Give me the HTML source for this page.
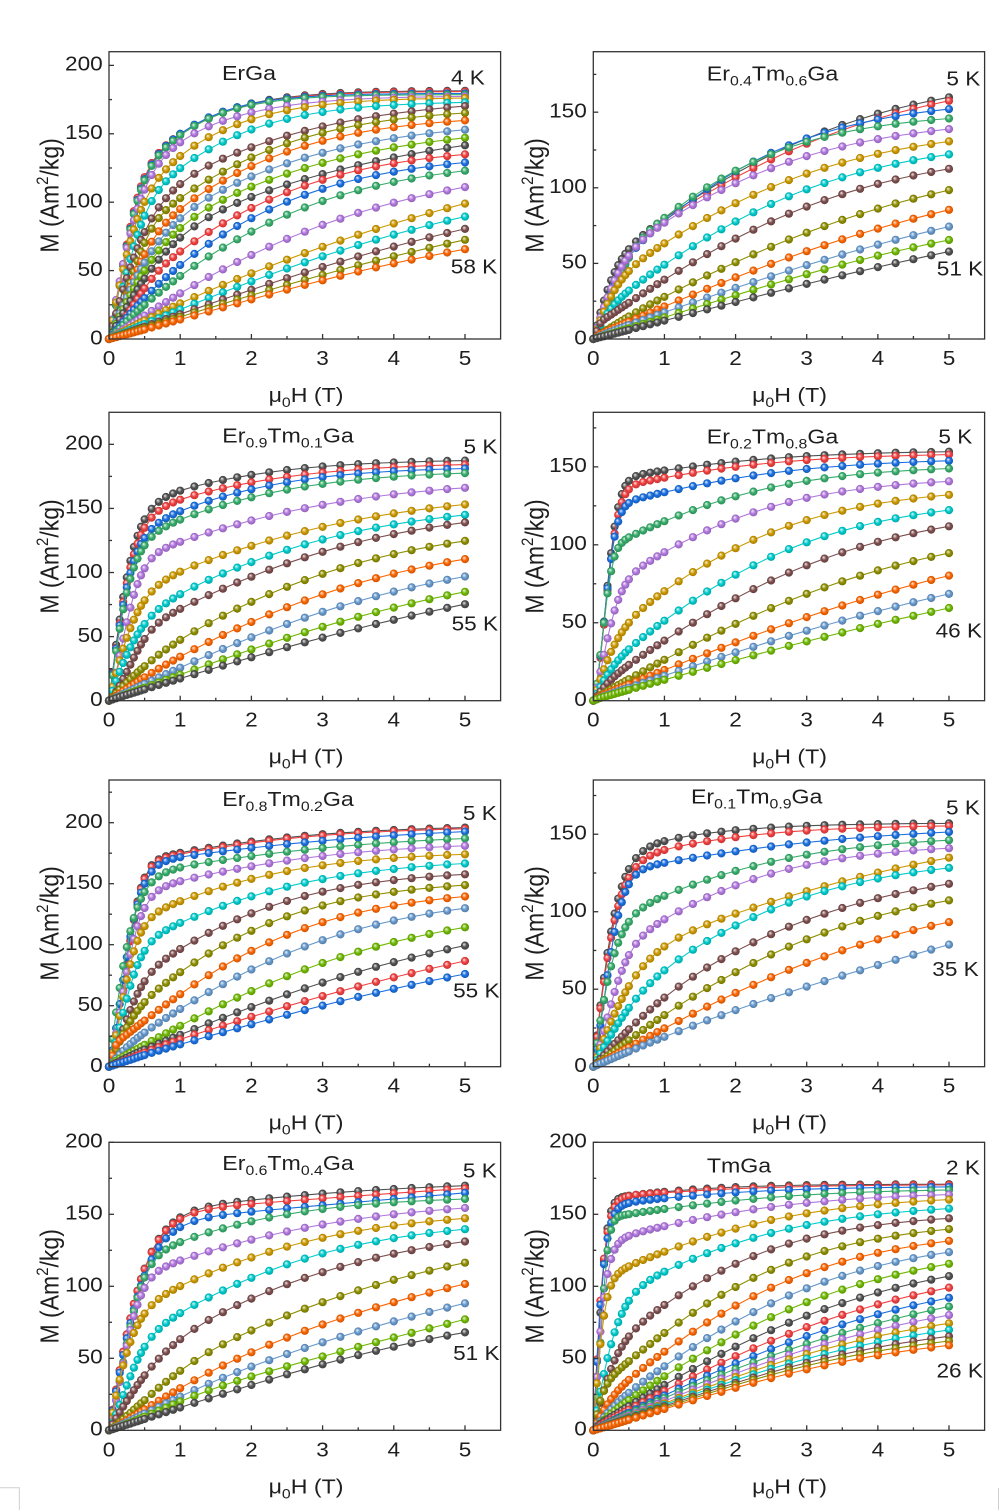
<!DOCTYPE html>
<html><head><meta charset="utf-8">
<style>
html,body{margin:0;padding:0;background:#fff;overflow:hidden;width:1000px;height:1510px;}
svg{display:block;}
text{font-family:"Liberation Sans",Arial,sans-serif;fill:#1e1e1e;}
.tk{font-size:20px;}
.ti{font-size:20.5px;}
.tl{font-size:20px;}
.ax{font-size:20.5px;}
.ay{font-size:23px;}
</style></head><body>
<svg id="s" width="1000" height="1510" viewBox="0 0 1000 1510" xmlns="http://www.w3.org/2000/svg">
<rect x="0" y="0" width="1000" height="1510" fill="#fff"/>
<defs id="defs"></defs>
<g id="data"></g>
<g id="frames" fill="none" stroke="#333" stroke-width="1.3"></g>

<!-- light corner marks -->
<path d="M0 1487.7 H19.3 V1510" fill="none" stroke="#cfcfcf" stroke-width="1"/>
<path d="M998.5 1488 V1510" fill="none" stroke="#cfcfcf" stroke-width="1"/>

<!-- ===== Panel 1 ===== -->
<g class="tk" text-anchor="end">
<text transform="translate(102.7 344.3) scale(1.13 1)">0</text>
<text transform="translate(102.7 275.9) scale(1.13 1)">50</text>
<text transform="translate(102.7 207.5) scale(1.13 1)">100</text>
<text transform="translate(102.7 139.1) scale(1.13 1)">150</text>
<text transform="translate(102.7 70.7) scale(1.13 1)">200</text>
</g>
<g class="tk" text-anchor="middle">
<text transform="translate(109 365) scale(1.13 1)">0</text>
<text transform="translate(180.2 365) scale(1.13 1)">1</text>
<text transform="translate(251.4 365) scale(1.13 1)">2</text>
<text transform="translate(322.6 365) scale(1.13 1)">3</text>
<text transform="translate(393.8 365) scale(1.13 1)">4</text>
<text transform="translate(465 365) scale(1.13 1)">5</text>
</g>
<text class="ti" text-anchor="middle" transform="translate(249 80) scale(1.13 1)">ErGa</text>
<text class="tl" text-anchor="middle" transform="translate(467.9 84.5) scale(1.13 1)">4 K</text>
<text class="tl" text-anchor="middle" transform="translate(474 273.3) scale(1.13 1)">58 K</text>
<text class="ay" text-anchor="middle" transform="translate(49 195.4) scale(1.13 1) rotate(-90)" y="8.3">M (Am<tspan font-size="15" dy="-9">2</tspan><tspan dy="9">/kg)</tspan></text>
<text class="ax" text-anchor="middle" transform="translate(306 402) scale(1.13 1)">μ<tspan font-size="14" dy="5">0</tspan><tspan dy="-5">H (T)</tspan></text>

<!-- ===== Panel 2 ===== -->
<g class="tk" text-anchor="end">
<text transform="translate(586.8 344.3) scale(1.13 1)">0</text>
<text transform="translate(586.8 268.7) scale(1.13 1)">50</text>
<text transform="translate(586.8 193.1) scale(1.13 1)">100</text>
<text transform="translate(586.8 117.5) scale(1.13 1)">150</text>
</g>
<g class="tk" text-anchor="middle">
<text transform="translate(593.3 365) scale(1.13 1)">0</text>
<text transform="translate(664.4 365) scale(1.13 1)">1</text>
<text transform="translate(735.6 365) scale(1.13 1)">2</text>
<text transform="translate(806.7 365) scale(1.13 1)">3</text>
<text transform="translate(877.9 365) scale(1.13 1)">4</text>
<text transform="translate(949 365) scale(1.13 1)">5</text>
</g>
<text class="ti" text-anchor="middle" transform="translate(772.5 80.7) scale(1.13 1)">Er<tspan font-size="14" dy="5">0.4</tspan><tspan dy="-5">Tm</tspan><tspan font-size="14" dy="5">0.6</tspan><tspan dy="-5">Ga</tspan></text>
<text class="tl" text-anchor="middle" transform="translate(963.3 85.7) scale(1.13 1)">5 K</text>
<text class="tl" text-anchor="middle" transform="translate(960 275.7) scale(1.13 1)">51 K</text>
<text class="ay" text-anchor="middle" transform="translate(534 195.4) scale(1.13 1) rotate(-90)" y="8.3">M (Am<tspan font-size="15" dy="-9">2</tspan><tspan dy="9">/kg)</tspan></text>
<text class="ax" text-anchor="middle" transform="translate(789.5 402) scale(1.13 1)">μ<tspan font-size="14" dy="5">0</tspan><tspan dy="-5">H (T)</tspan></text>

<!-- ===== Panel 3 ===== -->
<g class="tk" text-anchor="end">
<text transform="translate(102.7 706) scale(1.13 1)">0</text>
<text transform="translate(102.7 641.9) scale(1.13 1)">50</text>
<text transform="translate(102.7 577.8) scale(1.13 1)">100</text>
<text transform="translate(102.7 513.7) scale(1.13 1)">150</text>
<text transform="translate(102.7 449.6) scale(1.13 1)">200</text>
</g>
<g class="tk" text-anchor="middle">
<text transform="translate(109 726.7) scale(1.13 1)">0</text>
<text transform="translate(180.2 726.7) scale(1.13 1)">1</text>
<text transform="translate(251.4 726.7) scale(1.13 1)">2</text>
<text transform="translate(322.6 726.7) scale(1.13 1)">3</text>
<text transform="translate(393.8 726.7) scale(1.13 1)">4</text>
<text transform="translate(465 726.7) scale(1.13 1)">5</text>
</g>
<text class="ti" text-anchor="middle" transform="translate(288 442.3) scale(1.13 1)">Er<tspan font-size="14" dy="5">0.9</tspan><tspan dy="-5">Tm</tspan><tspan font-size="14" dy="5">0.1</tspan><tspan dy="-5">Ga</tspan></text>
<text class="tl" text-anchor="middle" transform="translate(480.5 453.3) scale(1.13 1)">5 K</text>
<text class="tl" text-anchor="middle" transform="translate(474.8 630.7) scale(1.13 1)">55 K</text>
<text class="ay" text-anchor="middle" transform="translate(49 556.5) scale(1.13 1) rotate(-90)" y="8.3">M (Am<tspan font-size="15" dy="-9">2</tspan><tspan dy="9">/kg)</tspan></text>
<text class="ax" text-anchor="middle" transform="translate(306 763.7) scale(1.13 1)">μ<tspan font-size="14" dy="5">0</tspan><tspan dy="-5">H (T)</tspan></text>

<!-- ===== Panel 4 ===== -->
<g class="tk" text-anchor="end">
<text transform="translate(586.8 706) scale(1.13 1)">0</text>
<text transform="translate(586.8 628.1) scale(1.13 1)">50</text>
<text transform="translate(586.8 550.1) scale(1.13 1)">100</text>
<text transform="translate(586.8 472.2) scale(1.13 1)">150</text>
</g>
<g class="tk" text-anchor="middle">
<text transform="translate(593.3 726.7) scale(1.13 1)">0</text>
<text transform="translate(664.4 726.7) scale(1.13 1)">1</text>
<text transform="translate(735.6 726.7) scale(1.13 1)">2</text>
<text transform="translate(806.7 726.7) scale(1.13 1)">3</text>
<text transform="translate(877.9 726.7) scale(1.13 1)">4</text>
<text transform="translate(949 726.7) scale(1.13 1)">5</text>
</g>
<text class="ti" text-anchor="middle" transform="translate(772.5 443.3) scale(1.13 1)">Er<tspan font-size="14" dy="5">0.2</tspan><tspan dy="-5">Tm</tspan><tspan font-size="14" dy="5">0.8</tspan><tspan dy="-5">Ga</tspan></text>
<text class="tl" text-anchor="middle" transform="translate(955.3 443.3) scale(1.13 1)">5 K</text>
<text class="tl" text-anchor="middle" transform="translate(958.8 637.7) scale(1.13 1)">46 K</text>
<text class="ay" text-anchor="middle" transform="translate(534 556.5) scale(1.13 1) rotate(-90)" y="8.3">M (Am<tspan font-size="15" dy="-9">2</tspan><tspan dy="9">/kg)</tspan></text>
<text class="ax" text-anchor="middle" transform="translate(789.5 763.7) scale(1.13 1)">μ<tspan font-size="14" dy="5">0</tspan><tspan dy="-5">H (T)</tspan></text>

<!-- ===== Panel 5 ===== -->
<g class="tk" text-anchor="end">
<text transform="translate(102.7 1072) scale(1.13 1)">0</text>
<text transform="translate(102.7 1011) scale(1.13 1)">50</text>
<text transform="translate(102.7 950) scale(1.13 1)">100</text>
<text transform="translate(102.7 889) scale(1.13 1)">150</text>
<text transform="translate(102.7 828) scale(1.13 1)">200</text>
</g>
<g class="tk" text-anchor="middle">
<text transform="translate(109 1092.7) scale(1.13 1)">0</text>
<text transform="translate(180.2 1092.7) scale(1.13 1)">1</text>
<text transform="translate(251.4 1092.7) scale(1.13 1)">2</text>
<text transform="translate(322.6 1092.7) scale(1.13 1)">3</text>
<text transform="translate(393.8 1092.7) scale(1.13 1)">4</text>
<text transform="translate(465 1092.7) scale(1.13 1)">5</text>
</g>
<text class="ti" text-anchor="middle" transform="translate(288 806) scale(1.13 1)">Er<tspan font-size="14" dy="5">0.8</tspan><tspan dy="-5">Tm</tspan><tspan font-size="14" dy="5">0.2</tspan><tspan dy="-5">Ga</tspan></text>
<text class="tl" text-anchor="middle" transform="translate(479.8 820) scale(1.13 1)">5 K</text>
<text class="tl" text-anchor="middle" transform="translate(476.3 997.7) scale(1.13 1)">55 K</text>
<text class="ay" text-anchor="middle" transform="translate(49 923.4) scale(1.13 1) rotate(-90)" y="8.3">M (Am<tspan font-size="15" dy="-9">2</tspan><tspan dy="9">/kg)</tspan></text>
<text class="ax" text-anchor="middle" transform="translate(306 1129.7) scale(1.13 1)">μ<tspan font-size="14" dy="5">0</tspan><tspan dy="-5">H (T)</tspan></text>

<!-- ===== Panel 6 ===== -->
<g class="tk" text-anchor="end">
<text transform="translate(586.8 1072) scale(1.13 1)">0</text>
<text transform="translate(586.8 994.5) scale(1.13 1)">50</text>
<text transform="translate(586.8 917) scale(1.13 1)">100</text>
<text transform="translate(586.8 839.5) scale(1.13 1)">150</text>
</g>
<g class="tk" text-anchor="middle">
<text transform="translate(593.3 1092.7) scale(1.13 1)">0</text>
<text transform="translate(664.4 1092.7) scale(1.13 1)">1</text>
<text transform="translate(735.6 1092.7) scale(1.13 1)">2</text>
<text transform="translate(806.7 1092.7) scale(1.13 1)">3</text>
<text transform="translate(877.9 1092.7) scale(1.13 1)">4</text>
<text transform="translate(949 1092.7) scale(1.13 1)">5</text>
</g>
<text class="ti" text-anchor="middle" transform="translate(756.7 803.3) scale(1.13 1)">Er<tspan font-size="14" dy="5">0.1</tspan><tspan dy="-5">Tm</tspan><tspan font-size="14" dy="5">0.9</tspan><tspan dy="-5">Ga</tspan></text>
<text class="tl" text-anchor="middle" transform="translate(963 814.3) scale(1.13 1)">5 K</text>
<text class="tl" text-anchor="middle" transform="translate(955.5 976) scale(1.13 1)">35 K</text>
<text class="ay" text-anchor="middle" transform="translate(534 923.4) scale(1.13 1) rotate(-90)" y="8.3">M (Am<tspan font-size="15" dy="-9">2</tspan><tspan dy="9">/kg)</tspan></text>
<text class="ax" text-anchor="middle" transform="translate(789.5 1129.7) scale(1.13 1)">μ<tspan font-size="14" dy="5">0</tspan><tspan dy="-5">H (T)</tspan></text>

<!-- ===== Panel 7 ===== -->
<g class="tk" text-anchor="end">
<text transform="translate(102.7 1435.6) scale(1.13 1)">0</text>
<text transform="translate(102.7 1363.6) scale(1.13 1)">50</text>
<text transform="translate(102.7 1291.6) scale(1.13 1)">100</text>
<text transform="translate(102.7 1219.6) scale(1.13 1)">150</text>
<text transform="translate(102.7 1147.6) scale(1.13 1)">200</text>
</g>
<g class="tk" text-anchor="middle">
<text transform="translate(109 1456.3) scale(1.13 1)">0</text>
<text transform="translate(180.2 1456.3) scale(1.13 1)">1</text>
<text transform="translate(251.4 1456.3) scale(1.13 1)">2</text>
<text transform="translate(322.6 1456.3) scale(1.13 1)">3</text>
<text transform="translate(393.8 1456.3) scale(1.13 1)">4</text>
<text transform="translate(465 1456.3) scale(1.13 1)">5</text>
</g>
<text class="ti" text-anchor="middle" transform="translate(288 1170) scale(1.13 1)">Er<tspan font-size="14" dy="5">0.6</tspan><tspan dy="-5">Tm</tspan><tspan font-size="14" dy="5">0.4</tspan><tspan dy="-5">Ga</tspan></text>
<text class="tl" text-anchor="middle" transform="translate(479.8 1177.7) scale(1.13 1)">5 K</text>
<text class="tl" text-anchor="middle" transform="translate(476.3 1360) scale(1.13 1)">51 K</text>
<text class="ay" text-anchor="middle" transform="translate(49 1286.3) scale(1.13 1) rotate(-90)" y="8.3">M (Am<tspan font-size="15" dy="-9">2</tspan><tspan dy="9">/kg)</tspan></text>
<text class="ax" text-anchor="middle" transform="translate(306 1493.3) scale(1.13 1)">μ<tspan font-size="14" dy="5">0</tspan><tspan dy="-5">H (T)</tspan></text>

<!-- ===== Panel 8 ===== -->
<g class="tk" text-anchor="end">
<text transform="translate(586.8 1435.6) scale(1.13 1)">0</text>
<text transform="translate(586.8 1363.6) scale(1.13 1)">50</text>
<text transform="translate(586.8 1291.6) scale(1.13 1)">100</text>
<text transform="translate(586.8 1219.6) scale(1.13 1)">150</text>
<text transform="translate(586.8 1147.6) scale(1.13 1)">200</text>
</g>
<g class="tk" text-anchor="middle">
<text transform="translate(593.3 1456.3) scale(1.13 1)">0</text>
<text transform="translate(664.4 1456.3) scale(1.13 1)">1</text>
<text transform="translate(735.6 1456.3) scale(1.13 1)">2</text>
<text transform="translate(806.7 1456.3) scale(1.13 1)">3</text>
<text transform="translate(877.9 1456.3) scale(1.13 1)">4</text>
<text transform="translate(949 1456.3) scale(1.13 1)">5</text>
</g>
<text class="ti" text-anchor="middle" transform="translate(739 1172.3) scale(1.13 1)">TmGa</text>
<text class="tl" text-anchor="middle" transform="translate(963 1174.3) scale(1.13 1)">2 K</text>
<text class="tl" text-anchor="middle" transform="translate(959.7 1377.7) scale(1.13 1)">26 K</text>
<text class="ay" text-anchor="middle" transform="translate(534 1286.3) scale(1.13 1) rotate(-90)" y="8.3">M (Am<tspan font-size="15" dy="-9">2</tspan><tspan dy="9">/kg)</tspan></text>
<text class="ax" text-anchor="middle" transform="translate(789.5 1493.3) scale(1.13 1)">μ<tspan font-size="14" dy="5">0</tspan><tspan dy="-5">H (T)</tspan></text>
</svg>

<script>
(function(){
const COLS=["#515151","#F14040","#1A6FDF","#37AD6B","#B177DE","#CC9900","#00CBCC","#7D4E4E","#8E8E00","#FB6501","#6699CC","#6FB802"];
function mix(hex,t,tg){const n=parseInt(hex.slice(1),16);const c=[n>>16,(n>>8)&255,n&255].map(v=>Math.round(v+(tg-v)*t));return 'rgb('+c.join(',')+')';}
let defs='';
COLS.forEach((c,i)=>{
  defs+='<radialGradient id="g'+i+'" cx="0.5" cy="0.5" r="0.5" fx="0.36" fy="0.32">'+
  '<stop offset="0" stop-color="'+mix(c,0.9,255)+'"/>'+
  '<stop offset="0.55" stop-color="'+c+'"/>'+
  '<stop offset="1" stop-color="'+mix(c,0.18,0)+'"/></radialGradient>';
});
document.getElementById('defs').innerHTML=defs;

const P=[
 {x0:109,y0:339,top:51.7,xs:71.2,ymax:210,d:[
  [118,150,172,181.5,0.3,82],[118,150,172,180.5,0.3,82],[117,149.5,171.5,180,0.3,81],[116,149,170.5,179,0.3,80],
  [110,143,165.6,177.5,0.3,77],[100,134,160.7,176],[90,125,153,173],[78,113,140.7,170],[70,103,133,165],
  [62,95,126,160],[56,88,118.8,153],[50,81,111.5,147],[44,74,104,141.5],[37,64,95.6,135],[30,54,88.3,129],
  [25,46,78.5,123],[17.5,33,61.5,111],[13.5,26,48,99],[11,21.5,42,89.5],[9.2,18,36,80.5],[8.2,16,32,72.5],[7.2,14,29,65.6]]},
 {x0:593.3,y0:339,top:51.7,xs:71.14,ymax:190,d:[
  [58,80,110,160,3,132,0.25,40],[55,78,107,157.5],[54,78,111,152],[54,80,111,146],[55,77,103,138.8],
  [45,63,90,130.6],[32,49,78,122],[24,39,66.6,112.5],[15,27.6,51,98.4],[11.5,21.4,40.8,85.4],
  [9.2,17.4,34,74.3],[7.4,14,29,65.5],[6.2,12,24.5,57.8]]},
 {x0:109,y0:700.7,top:412.3,xs:71.2,ymax:225,d:[
  [140,165,175.5,187.5,0.3,110],[134,157,170,184.4,0.3,105],[126,149,164,181.5,0.3,100],[120,143,158,177.6,0.3,95],
  [103,124,141,165.9],[78,100.8,121,153],[60,83,108,145],[48,71.6,97,139],[27,47.4,77,124.7],
  [18.5,33.9,61.7,110.4],[13.5,25.3,49.5,96.9],[10.5,20,40,85],[9,17,34,75.3]]},
 {x0:593.3,y0:700.7,top:412.3,xs:71.14,ymax:185,d:[
  [138,149.6,152.5,159.9,0.2,75,0.3,113],[133,144.2,149.5,158,0.2,70,0.3,110],[126,134,142.5,154,0.2,72,0.3,106],
  [104.5,117.4,130,149,0.2,68,0.3,92],[78,95.3,116.3,141,0.2,40],[50,70.2,98,132],[33,50.9,81.5,122],
  [23,38,66.5,111.6],[14,26.2,49,94.8],[10.5,19.7,37.3,80.3],[8.4,16,31,68.5],[7,13.3,26.2,59.4]]},
 {x0:109,y0:1066.7,top:780,xs:71.2,ymax:235,d:[
  [155,175.4,184.4,196],[154,174,183.5,195],[150,171.6,179.5,192.6],[143,163.4,172.7,187],[130,152,164.5,181],
  [115,135.8,154,174],[95,118,139.3,166.7],[70,96.4,125.7,157.7],[53,77,112,148.6],[38,58.7,95.6,139.3],
  [28,47,80,129.8],[18,32.8,62.8,114],[14,26,49,99.2],[11.5,22.4,40.9,86.6],[9.5,18.3,34.7,76]]},
 {x0:593.3,y0:1066.7,top:780,xs:71.14,ymax:185,d:[
  [125,148,151.3,157.3,0.3,100],[120,142,147,155.6,0.3,95],[117,131,139.5,151.3,0.3,88],[92,111,126.6,145.9,0.3,74],
  [72,95,117,141],[52,77.3,99,134.8],[38,62.2,91,128.3],[24,44.6,74.5,118],[17,33.3,61,107.3],
  [12.5,24.7,47.6,93.3],[9.8,19.3,36.5,78.8]]},
 {x0:109,y0:1430.3,top:1142.3,xs:71.2,ymax:200,d:[
  [112,148.8,159.5,169.9,0.3,77],[112,147.2,157,168,0.3,77],[108,140.3,151.8,165,0.3,75],[105,131,145.4,160.4,0.3,73],
  [98,118.3,132.6,154.2,0.3,70],[81,100.2,120,147.2],[58,81.3,106,139.6],[38,63.2,91.7,131],[21,41.2,69.4,116.4],
  [14.5,29.2,54.2,101.6],[11.5,23.4,44.2,88.2],[9.5,20,37.3,77],[8,15.7,31.5,68]]},
 {x0:593.3,y0:1430.3,top:1142.3,xs:71.14,ymax:200,d:[
  [163,166,168.5,171,0.2,140],[162,165.5,167.5,170.5,0.2,138],[158,161.6,164.6,169.2,0.2,133],[150,154,159.3,167,0.2,125],
  [135,143,150.5,163.9,0.2,108],[113,126,139.6,160,0.2,92],[90,110,129.9,154],[65,87,116,147],[48,67.4,99.8,139.6],
  [35,54.6,86.6,131.5],[26,44.2,76,123.6],[21,37.3,66.7,115.5],[17,31,58.3,107],[14.5,26.9,51.9,99],
  [12.5,24,46.5,92],[11.5,22.2,42.6,85.9],[10.5,20,39.6,80],[9.5,18.5,37,74.3],[9,17.5,35,69.7],
  [8.5,16.5,33,65.3],[8,15.5,31.5,62],[7.5,14.6,29.6,59]]}
];

const XS=[];
for(let i=0;i<=10;i++)XS.push(+(i*0.05).toFixed(2));
[0.6,0.7,0.8,0.9,1.0,1.2,1.4,1.6,1.8,2.0].forEach(v=>XS.push(v));
for(let i=1;i<=12;i++)XS.push(2+i*0.25);

function fit(pts){
  let best=null;
  const ps=[1,1.25,1.5];
  for(let ih=0;ih<70;ih++){
    const h=0.08*Math.pow(1.09,ih);
    for(const p of ps){
      const F=pts.map(q=>Math.tanh(Math.pow(q[0]/h,p)));
      for(let ih2=0;ih2<40;ih2++){
        const h2=Math.pow(1.1,ih2);
        let s11=0,s12=0,s22=0,t1=0,t2=0;
        const G=pts.map(q=>Math.tanh(q[0]/h2));
        for(let k=0;k<pts.length;k++){const f=F[k],g=G[k],m=pts[k][1];s11+=f*f;s12+=f*g;s22+=g*g;t1+=f*m;t2+=g*m;}
        const det=s11*s22-s12*s12;
        if(Math.abs(det)<1e-10)continue;
        const A=(t1*s22-t2*s12)/det,B=(s11*t2-s12*t1)/det;
        if(A<0||B<0)continue;
        let err=0;
        for(let k=0;k<pts.length;k++){const v=A*F[k]+B*G[k]-pts[k][1];err+=v*v;}
        if(!best||err<best.err)best={err,A,B,h,h2,p};
      }
    }
  }
  return best;
}
function evalF(b,pts,x){
  if(b)return b.A*Math.tanh(Math.pow(x/b.h,b.p))+b.B*Math.tanh(x/b.h2);
  const s=[[0,0]].concat(pts).sort((a,c)=>a[0]-c[0]);
  for(let i=1;i<s.length;i++){if(x<=s[i][0]){const a=s[i-1],c=s[i];return a[1]+(c[1]-a[1])*(x-a[0])/(c[0]-a[0]);}}
  return s[s.length-1][1];
}

let out='';
let fr='';
P.forEach(pn=>{
  const sy=(pn.y0-pn.top)/pn.ymax;
  pn.d.forEach((c,i)=>{
    const pts=[[0.5,c[0]],[1,c[1]],[2,c[2]],[5,c[3]]];
    for(let k=4;k+1<c.length;k+=2)pts.push([c[k],c[k+1]]);
    const b=fit(pts);
    const ci=i%12,col=COLS[ci];
    let pl='';
    const xy=XS.map(x=>{const m=Math.max(0,evalF(b,pts,x));return [pn.x0+x*pn.xs,pn.y0-m*sy];});
    xy.forEach(q=>{pl+=q[0].toFixed(1)+','+q[1].toFixed(1)+' ';});
    out+='<polyline points="'+pl+'" fill="none" stroke="'+col+'" stroke-width="1.1"/>';
    xy.forEach(q=>{out+='<circle cx="'+q[0].toFixed(1)+'" cy="'+q[1].toFixed(1)+'" r="4.1" fill="url(#g'+ci+')"/>';});
  });
  const w=5.5*pn.xs,hgt=pn.y0-pn.top;
  fr+='<rect x="'+pn.x0+'" y="'+pn.top+'" width="'+w.toFixed(1)+'" height="'+hgt.toFixed(1)+'"/>';
  for(let k=0;k<=5;k++){const x=pn.x0+k*pn.xs;fr+='<line x1="'+x+'" y1="'+pn.y0+'" x2="'+x+'" y2="'+(pn.y0-5)+'"/>';}
  for(let k=0;k<5;k++){const x=pn.x0+(k+0.5)*pn.xs;fr+='<line x1="'+x+'" y1="'+pn.y0+'" x2="'+x+'" y2="'+(pn.y0-3)+'"/>';}
  for(let v=50;v<=pn.ymax+0.01;v+=50){const y=pn.y0-v*sy;fr+='<line x1="'+pn.x0+'" y1="'+y+'" x2="'+(pn.x0+5)+'" y2="'+y+'"/>';}
  for(let v=25;v<pn.ymax-1;v+=50){const y=pn.y0-v*sy;fr+='<line x1="'+pn.x0+'" y1="'+y+'" x2="'+(pn.x0+3)+'" y2="'+y+'"/>';}
});
document.getElementById('data').innerHTML=out;
document.getElementById('frames').innerHTML=fr;
})();
</script>
</body></html>
